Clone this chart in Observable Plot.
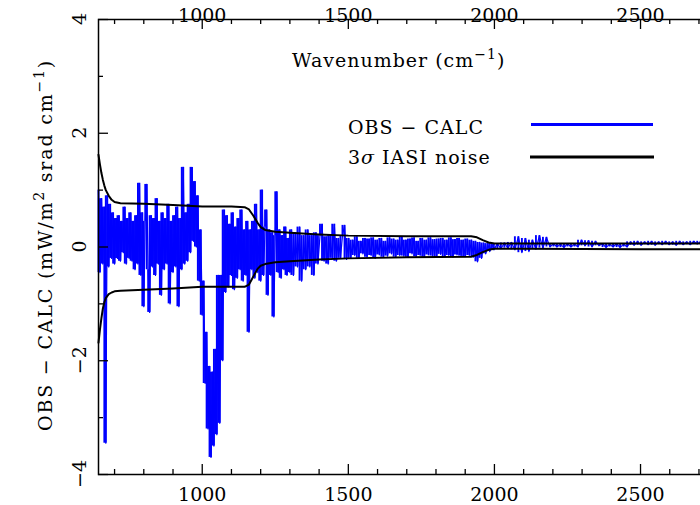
<!DOCTYPE html>
<html><head><meta charset="utf-8">
<script src="https://cdn.jsdelivr.net/npm/d3@7"></script>
<script src="https://cdn.jsdelivr.net/npm/@observablehq/plot@0.6"></script>
<style>
html,body{margin:0;padding:0;overflow:hidden;background:#fff;width:700px;height:505px}
#chart svg{max-width:none !important;display:block;overflow:visible}
</style></head><body><div id="chart"></div>
<script>
// OBS - CALC residual spectrum (alternating upper/lower envelope values)
const seg1Start = 645, seg1Step = 5;
const seg1Values = [
 1.0,-0.45,0.85,-0.3,0.7,-3.45,0.9,-0.35,0.75,-0.2,0.6,-0.3,
 0.5,-0.2,0.55,-0.25,0.45,-0.1,0.7,-0.3,0.5,-0.2,0.6,-0.25,0.45,-0.4,0.55,
 -0.3,1.12,-0.5,0.6,-1.05,0.45,1.1,-0.4,-1.15,0.55,
 -0.35,0.5,-0.5,0.85,-0.3,0.45,-0.85,0.6,-0.4,0.5,-0.3,0.75,-1.0,0.45,-0.45,0.55,-0.35,0.7,-1.05,0.5,
 -0.4,1.4,-0.3,0.6,-0.25,0.75,-0.1,1.4,0.1,1.15,0.0,0.9,-0.6,0.3,
 -1.2,-0.6,-2.4,-1.5,-3.2,-2.1,-3.7,-2.2,-3.5,-1.8,-3.3,-0.5,-3.1,-0.5,-2.0,0.65,-0.8,
 0.55,-0.7,0.4,-0.5,0.6,-0.75,0.35,-0.55,0.5,-0.4,0.65,-0.6,0.3,-0.5,0.45,-1.5,0.3,
 -0.4,0.45,-0.55,0.75,-0.45,0.3,-0.6,1.0,-0.5,0.35,0.65,-0.85,0.3,-0.5,0.25,-1.23,0.2,0.97,-0.45,
 0.3,-0.55,0.2,-0.4,0.35,-0.5,0.15,-0.45
];
const seg2Start = 1305, seg2Step = 7;
const seg2Values = [
 0.3,-0.5,0.25,-0.35,0.35,-0.6,0.2,-0.4,0.3,-0.35,0.2,-0.5,
 0.25,-0.3,0.2,0.4,-0.25,0.18,-0.3,0.2,-0.2,0.4,-0.25,0.15,-0.2,0.2,0.38,-0.22,
 0.15,-0.2,0.12,-0.15,0.18,-0.2,0.1,-0.12,0.15,-0.18,0.14,-0.15,0.16,-0.2,0.12,-0.14,
 0.15,-0.18,0.1,-0.16,0.16,-0.12,0.14,-0.18,0.12,-0.15,0.17,-0.16,0.12,-0.18,0.14,-0.12,
 0.16,-0.17,0.1,-0.15,0.15,-0.18,0.12,-0.14,0.16,-0.16,0.13,-0.18,0.14,-0.13,0.15,-0.17,
 0.12,-0.15,0.16,-0.18,0.13,-0.14,0.15,-0.16,0.12,-0.17,0.14,-0.15,0.12,-0.18,
 0.1,-0.26,0.08,-0.2,0.07,-0.12,0.06,-0.08,0.06,-0.05
];
const seg3Start = 2010, seg3Step = 12;
const seg3Values = [
 0.06,-0.03,0.07,-0.02,0.08,-0.05,0.18,-0.1,0.15,-0.08,0.12,-0.04,0.2,-0.02,0.17,0.0,
 0.06,0.0,0.05,-0.01,0.06,0.0,0.05,0.0,0.12,0.02,0.11,0.0,0.1,0.02,0.06,-0.01,
 0.05,0.0,0.06,-0.01,0.05,0.0,0.09,0.03,0.1,0.03,0.09,0.04,0.1,0.03,0.09,0.04,
 0.1,0.04,0.09,0.03,0.1,0.04,0.09,0.04,0.1,0.05,0.1,0.05,0.1,0.05,0.09
];

// 3-sigma IASI noise envelope
const noiseWn = [645,650,655,660,665,670,680,690,700,720,800,900,1000,1100,1145,1160,1175,1190,1200,1215,1250,1300,1400,1500,1700,1920,1940,1960,1980,2000,2100,2500,2760];
const noiseUp = [1.62,1.45,1.3,1.18,1.08,1.0,0.9,0.83,0.79,0.77,0.76,0.74,0.71,0.71,0.70,0.66,0.55,0.42,0.35,0.3,0.27,0.25,0.22,0.2,0.19,0.19,0.17,0.12,0.08,0.06,0.06,0.06,0.06];
const noiseLo = [-1.68,-1.45,-1.25,-1.08,-0.97,-0.9,-0.83,-0.8,-0.78,-0.77,-0.75,-0.73,-0.7,-0.7,-0.7,-0.66,-0.52,-0.38,-0.33,-0.3,-0.27,-0.25,-0.22,-0.2,-0.18,-0.17,-0.14,-0.09,-0.05,-0.03,-0.03,-0.04,-0.04];

// axis ticks and labels
const xMajorTicks = [1000,1500,2000,2500];
const xMajorLabels = ["1000","1500","2000","2500"];
const xMinorTicks = [700,800,900,1100,1200,1300,1400,1600,1700,1800,1900,2100,2200,2300,2400,2600,2700];
const yMajorTicks = [-4,-2,0,2,4];
const yMajorLabels = ["\u22124","\u22122","0","2","4"];
const yMinorTicks = [-3,-1,1,3];

const seg = (start, step, vals) => vals.map((v, i) => ({w: start + i * step, v}));
const obs = [...seg(seg1Start, seg1Step, seg1Values), ...seg(seg2Start, seg2Step, seg2Values), ...seg(seg3Start, seg3Step, seg3Values)];
// vertical spans between consecutive samples (how a dense spectrum fills its band)
const obsSpans = obs.slice(0, -1).map((d, i) => ({w: d.w, a: d.v, b: obs[i + 1].v}));
const noise = noiseWn.map((w, i) => ({w, up: noiseUp[i], lo: noiseLo[i]}));

const W = 720, H = 505, mL = 98, mR = 4, mT = 19, mB = 31;
const innerW = W - mL - mR, innerH = H - mT - mB;
const FONT = "DejaVu Serif";
const FS = 19;
const BLUE = "#0000ff";

const plot = Plot.plot({
  width: W, height: H,
  marginLeft: mL, marginRight: mR, marginTop: mT, marginBottom: mB,
  style: {fontFamily: FONT, fontSize: FS + "px", background: "white", color: "black"},
  x: {domain: [645, 2760], axis: null},
  y: {domain: [-4, 4], axis: null},
  marks: [
    Plot.ruleX(obsSpans, {x: "w", y1: "a", y2: "b", stroke: BLUE, strokeWidth: 1.9}),
    Plot.line(obs, {x: "w", y: "v", stroke: BLUE, strokeWidth: 1.2}),
    Plot.line(noise, {x: "w", y: "up", stroke: "black", strokeWidth: 2}),
    Plot.line(noise, {x: "w", y: "lo", stroke: "black", strokeWidth: 2}),
    Plot.frame({stroke: "black", strokeWidth: 1.5}),
    Plot.ruleX(xMajorTicks, {x: d => d, insetTop: innerH - 10, stroke: "black", strokeWidth: 1.3}),
    Plot.ruleX(xMajorTicks, {x: d => d, insetBottom: innerH - 10, stroke: "black", strokeWidth: 1.3}),
    Plot.ruleX(xMinorTicks, {x: d => d, insetTop: innerH - 5, stroke: "black", strokeWidth: 1.3}),
    Plot.ruleX(xMinorTicks, {x: d => d, insetBottom: innerH - 5, stroke: "black", strokeWidth: 1.3}),
    Plot.ruleY(yMajorTicks, {y: d => d, insetRight: innerW - 10, stroke: "black", strokeWidth: 1.3}),
    Plot.ruleY(yMinorTicks, {y: d => d, insetRight: innerW - 5, stroke: "black", strokeWidth: 1.3}),
    Plot.text(xMajorTicks, {x: d => d, text: (d, i) => xMajorLabels[i], frameAnchor: "bottom", dy: 20.5, lineAnchor: "middle", fontSize: FS, fill: "black"}),
    Plot.text(xMajorTicks, {x: d => d, text: (d, i) => xMajorLabels[i], frameAnchor: "top", dy: -4, lineAnchor: "middle", fontSize: FS, fill: "black"})
  ]
});

const svg = d3.select(plot);
const g = svg.append("g").attr("font-family", FONT).attr("font-size", FS).attr("fill", "black").attr("text-anchor", "start");

// y tick labels (rotated), placed with the plot's own y scale
const yScale = plot.scale("y");
yMajorTicks.forEach((v, i) => {
  g.append("text")
    .attr("transform", `translate(79.5,${yScale.apply(v)}) rotate(-90)`)
    .attr("text-anchor", "middle").attr("dy", "0.36em")
    .text(yMajorLabels[i]);
});

// y-axis title
const yt = g.append("text").attr("transform", "translate(52,245) rotate(-90)").attr("text-anchor", "middle").attr("letter-spacing", "1.8");
yt.append("tspan").text("OBS \u2212 CALC (mW/m");
yt.append("tspan").attr("baseline-shift", "super").attr("font-size", 14).text("2");
yt.append("tspan").text(" srad cm");
yt.append("tspan").attr("baseline-shift", "super").attr("font-size", 14).text("\u22121");
yt.append("tspan").text(")");

// x-axis title (inside, top)
const xt = g.append("text").attr("x", 292).attr("y", 67).attr("letter-spacing", "1");
xt.append("tspan").text("Wavenumber (cm");
xt.append("tspan").attr("baseline-shift", "super").attr("font-size", 14).text("\u22121");
xt.append("tspan").text(")");

// legend
g.append("text").attr("x", 348).attr("y", 134).attr("letter-spacing", "1").text("OBS \u2212 CALC");
g.append("line").attr("x1", 531).attr("x2", 653).attr("y1", 124.5).attr("y2", 124.5).attr("stroke", BLUE).attr("stroke-width", 3);
const l2 = g.append("text").attr("x", 348).attr("y", 164).attr("letter-spacing", "1");
l2.append("tspan").text("3");
l2.append("tspan").attr("font-style", "italic").text("\u03c3");
l2.append("tspan").text(" IASI noise");
g.append("line").attr("x1", 530).attr("x2", 654).attr("y1", 157).attr("y2", 157).attr("stroke", "black").attr("stroke-width", 3);

document.getElementById("chart").appendChild(plot);
</script>
</body></html>
